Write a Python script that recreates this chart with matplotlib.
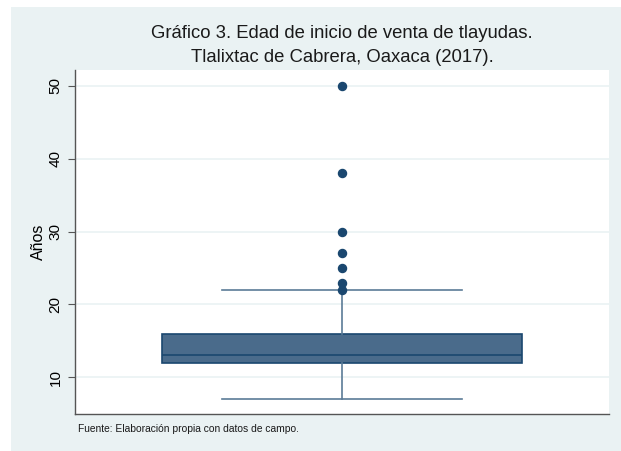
import matplotlib

matplotlib.use("Agg")
import matplotlib.pyplot as plt  # noqa: E402
from matplotlib.patches import Rectangle  # noqa: E402

plt.rcParams["font.family"] = ["Liberation Sans", "DejaVu Sans"]

# box plot summary (years)
whisker_low = 7
q1 = 12
median = 13
q3 = 16
whisker_high = 22
outliers = [22, 23, 25, 27, 30, 38, 50]
yticks = [10, 20, 30, 40, 50]

BG = "#eaf2f3"
NAVY = "#1a476f"
FILL = "#4a6b8b"
WHISK = "#5b7b97"

W, H = 621, 451
fig = plt.figure(figsize=(W / 100, H / 100), dpi=100)
fig.patch.set_facecolor("white")
# light frame, runs past the right and bottom edges so no white seam shows
fig.patches.append(Rectangle((11 / W, -0.02), 1.0, (H - 7) / H + 0.02,
                             transform=fig.transFigure, facecolor=BG,
                             edgecolor="none", zorder=-1))

# plot region: x 75..609, y 70..414 (pixels)
ax = fig.add_axes([75 / W, 1 - 414 / H, 534 / W, 344 / H])
ax.set_facecolor("white")

stats = [{"med": median, "q1": q1, "q3": q3, "whislo": whisker_low,
          "whishi": whisker_high, "fliers": outliers}]
ax.bxp(stats, positions=[0], widths=[0.674], patch_artist=True,
       boxprops=dict(facecolor=FILL, edgecolor=NAVY, linewidth=1.2),
       medianprops=dict(color=NAVY, linewidth=1.2),
       whiskerprops=dict(color=WHISK, linewidth=1.2),
       capprops=dict(color=WHISK, linewidth=1.2),
       capwidths=[0.449],
       flierprops=dict(marker="o", markerfacecolor=NAVY, markeredgecolor=NAVY,
                       markersize=5.8))

ax.set_xlim(-0.5, 0.5)
ax.set_ylim(4.97, 52.15)
ax.set_xticks([])
ax.set_yticks(yticks)
ax.set_yticklabels([str(t) for t in yticks], rotation=90, va="center", fontsize=11)
ax.tick_params(axis="y", length=5, width=0.8, color="#555555", pad=4)
ax.yaxis.grid(True, color=BG, linewidth=1.2)
ax.set_axisbelow(True)
for side in ("top", "right"):
    ax.spines[side].set_visible(False)
for side in ("left", "bottom"):
    ax.spines[side].set_color("#555555")
    ax.spines[side].set_linewidth(1.0)
ax.set_ylabel("Años", fontsize=11.5, va="center")
ax.yaxis.set_label_coords(-37 / 534, 0.5)

fig.text(342 / W, 1 - 34 / H, "Gráfico 3. Edad de inicio de venta de tlayudas.",
         ha="center", va="center", fontsize=13.3, color="#1a1a1a")
fig.text(342 / W, 1 - 58 / H, "Tlalixtac de Cabrera, Oaxaca (2017).",
         ha="center", va="center", fontsize=13.3, color="#1a1a1a")
fig.text(78 / W, 1 - 429 / H, "Fuente: Elaboración propia con datos de campo.",
         ha="left", va="center", fontsize=7.4, color="#1a1a1a")

fig.savefig("out.png", dpi=100, facecolor=fig.get_facecolor())
